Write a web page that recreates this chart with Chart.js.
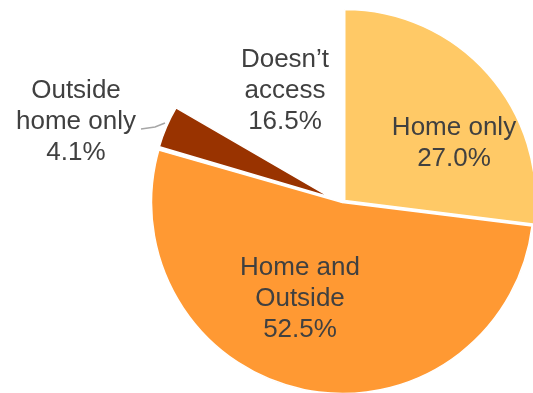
<!DOCTYPE html>
<html>
<head>
    <meta charset="UTF-8">
    <title>Access</title>
    <script src="https://cdn.jsdelivr.net/npm/chart.js@4/dist/chart.umd.min.js"></script>
</head>
<style>
    html, body { margin: 0; padding: 0; background: #fff; overflow: hidden; }
</style>
<body>
    <canvas id="wykres" width="533" height="393"></canvas>

    <script>
        const categories = ['Home only', 'Home and Outside', 'Outside home only', 'Doesn\u2019t access'];
        const shares = [27.0, 52.5, 4.1, 16.5];
        // label text split over lines, last line is the share
        const labelLines = [['Home only'], ['Home and', 'Outside'], ['Outside', 'home only'], ['Doesn\u2019t', 'access']];
        const colors = ['#FFC966', '#FF9933', '#993300', '#FFFFFF'];

        // slice labels, placed by hand like the original
        const sliceLabels = {
            id: 'sliceLabels',
            afterDatasetsDraw(chart, args, opts) {
                const ctx = chart.ctx;
                ctx.save();
                // leader line for the small slice
                ctx.strokeStyle = '#A6A6A6';
                ctx.lineWidth = 1.5;
                ctx.beginPath();
                ctx.moveTo(141, 129);
                ctx.lineTo(155, 127);
                ctx.lineTo(165, 123);
                ctx.stroke();

                ctx.fillStyle = '#404040';
                ctx.font = '26px "Liberation Sans", Arial, sans-serif';
                ctx.textAlign = 'center';
                ctx.textBaseline = 'alphabetic';
                opts.pos.forEach((p, i) => {
                    const lines = labelLines[i].concat([shares[i].toFixed(1) + '%']);
                    lines.forEach((t, j) => ctx.fillText(t, p[0], p[1] + j * 31));
                });
                ctx.restore();
            }
        };

        // the exploded small slice is drawn a bit shorter
        const sliceRadius = {
            id: 'sliceRadius',
            beforeDatasetsDraw(chart, args, opts) {
                const meta = chart.getDatasetMeta(0);
                meta.data.forEach((arc, i) => {
                    arc.outerRadius = meta.controller.outerRadius * opts.scale[i];
                });
            }
        };

        new Chart(document.getElementById('wykres'), {
            type: 'pie',
            data: {
                labels: categories,
                datasets: [{
                    data: shares,
                    backgroundColor: colors,
                    borderColor: '#FFFFFF',
                    borderWidth: 1.5,
                    offset: [12, 0, 56, 0],
                    radius: 191
                }]
            },
            options: {
                responsive: false,
                animation: false,
                events: [],
                layout: { padding: { left: 152, right: 0, top: 12, bottom: 0 } },
                plugins: {
                    legend: { display: false },
                    tooltip: { enabled: false },
                    sliceLabels: { pos: [[454, 135], [300, 275], [76, 98], [285, 67]] },
                    sliceRadius: { scale: [1, 1, 0.875, 1] }
                }
            },
            plugins: [sliceRadius, sliceLabels]
        });
    </script>
</body>
</html>
